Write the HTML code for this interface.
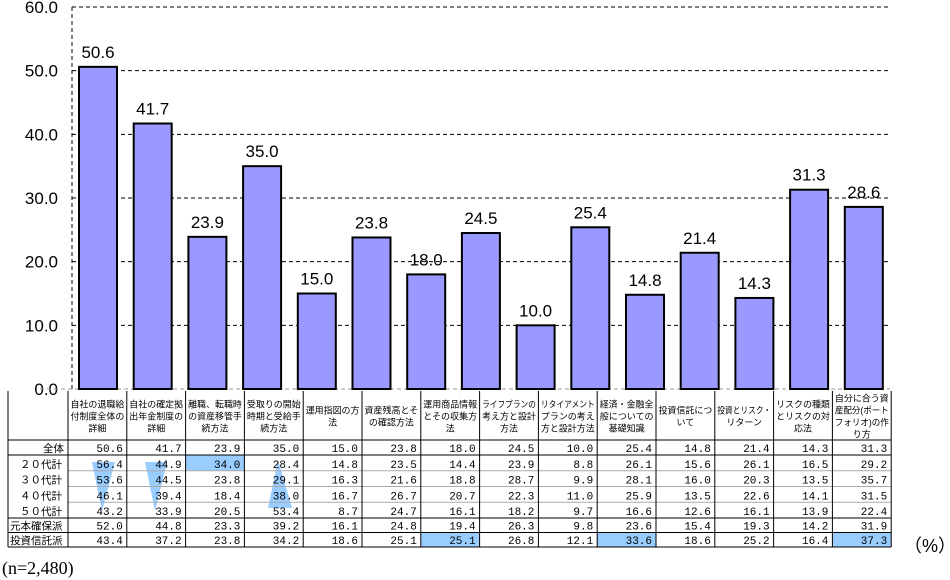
<!DOCTYPE html>
<html><head><meta charset="utf-8"><style>
body{margin:0;background:#fff;width:950px;height:580px;overflow:hidden;position:relative;font-family:"Liberation Sans","Noto Sans CJK JP",sans-serif}
svg{position:absolute;left:0;top:0}
</style></head><body>
<svg width="950" height="580" id="svg"></svg>
<script>
const categories=["自社の退職給付制度全体の詳細","自社の確定拠出年金制度の詳細","離職、転職時の資産移管手続方法","受取りの開始時期と受給手続方法","運用指図の方法","資産残高とその確認方法","運用商品情報とその収集方法","ライフプランの考え方と設計方法","リタイアメントプランの考え方と設計方法","経済・金融全般についての基礎知識","投資信託について","投資とリスク・リターン","リスクの種類とリスクの対応法","自分に合う資産配分(ポートフォリオ)の作り方"];
const headerLines=[["自社の退職給","付制度全体の","詳細"],["自社の確定拠","出年金制度の","詳細"],["離職、転職時","の資産移管手","続方法"],["受取りの開始","時期と受給手","続方法"],["運用指図の方","法"],["資産残高とそ","の確認方法"],["運用商品情報","とその収集方","法"],["ライフプランの","考え方と設計","方法"],["リタイアメント","プランの考え","方と設計方法"],["経済・金融全","般についての","基礎知識"],["投資信託につ","いて"],["投資とリスク・","リターン"],["リスクの種類","とリスクの対","応法"],["自分に合う資","産配分(ポート","フォリオ)の作","り方"]];
const barValues=[50.6,41.7,23.9,35.0,15.0,23.8,18.0,24.5,10.0,25.4,14.8,21.4,14.3,31.3,28.6];
const yTicks=[0,10,20,30,40,50,60];
const rowLabels=["全体","２０代計","３０代計","４０代計","５０代計","元本確保派","投資信託派"];
const rowAll=[50.6,41.7,23.9,35.0,15.0,23.8,18.0,24.5,10.0,25.4,14.8,21.4,14.3,31.3];
const row20=[56.4,44.9,34.0,28.4,14.8,23.5,14.4,23.9,8.8,26.1,15.6,26.1,16.5,29.2];
const row30=[53.6,44.5,23.8,29.1,16.3,21.6,18.8,28.7,9.9,28.1,16.0,20.3,13.5,35.7];
const row40=[46.1,39.4,18.4,38.0,16.7,26.7,20.7,22.3,11.0,25.9,13.5,22.6,14.1,31.5];
const row50=[43.2,33.9,20.5,53.4,8.7,24.7,16.1,18.2,9.7,16.6,12.6,16.1,13.9,22.4];
const rowGen=[52.0,44.8,23.3,39.2,16.1,24.8,19.4,26.3,9.8,23.6,15.4,19.3,14.2,31.9];
const rowTou=[43.4,37.2,23.8,34.2,18.6,25.1,25.1,26.8,12.1,33.6,18.6,25.2,16.4,37.3];
const rows=[rowAll,row20,row30,row40,row50,rowGen,rowTou];

const S=document.getElementById('svg');const NS="http://www.w3.org/2000/svg";
function mk(t,a,p){const e=document.createElementNS(NS,t);for(const k in a)e.setAttribute(k,a[k]);(p||S).appendChild(e);return e;}
const y0=389,yTop=7,xL=72,xR=890;
const yS=v=>y0-(v/60)*(y0-yTop);
const bX=i=>79+54.7*i;const bW=38;
yTicks.forEach(t=>{
 if(t>0){const l=mk('line',{x1:xL,x2:xR,y1:yS(t),y2:yS(t),stroke:'#000','stroke-dasharray':'4,3','stroke-width':1});
 }
 const tx=mk('text',{x:58,y:yS(t)+6,'text-anchor':'end','font-size':17,fill:'#000'});tx.textContent=t.toFixed(1);
 
});
const ax=mk('line',{x1:xL,x2:xL,y1:yTop,y2:y0,stroke:'#000','stroke-dasharray':'4,3'});

const zl=mk('line',{x1:40,x2:xR,y1:y0,y2:y0,stroke:'#999','stroke-dasharray':'4,3'});

barValues.forEach((v,i)=>{
 const r=mk('rect',{x:bX(i),y:yS(v),width:bW,height:y0-yS(v),fill:'#9999ff',stroke:'#000','stroke-width':2});
 
 const t=mk('text',{x:bX(i)+bW/2,y:yS(v)-9,'text-anchor':'middle','font-size':17,fill:'#000'});t.textContent=v.toFixed(1);
 
});
const tL=8,c0=68,cw=58.8,nC=14,tR=c0+cw*nC;
const rY=[391,440,455,470.75,486.5,502.25,518,532.5,547];
const cx=k=>c0+cw*k;
const hl=[[1,2],[6,6],[6,9],[6,13]];
hl.forEach(([r,c])=>{const e=mk('rect',{x:cx(c),y:rY[r+1],width:cw,height:rY[r+2]-rY[r+1],fill:'#99ccff'});
 });
const tris=["92,462 115,462 102,511","145,462 167,462 155,511","278,460 268,508 292,508"];
tris.forEach(p=>{const e=mk('polygon',{points:p,fill:'#99ccff'});
 });
[3,4,5].forEach(r=>{const l=mk('line',{x1:c0,x2:tR,y1:rY[r],y2:rY[r],stroke:'#aaa'});
 });
[1,2,6,7].forEach(r=>{const l=mk('line',{x1:tL,x2:tR,y1:rY[r],y2:rY[r],stroke:'#000'});
 });
const b=mk('line',{x1:tL,x2:tR,y1:rY[8],y2:rY[8],stroke:'#000'});
const lb=mk('line',{x1:tL,x2:tL,y1:rY[0],y2:rY[8],stroke:'#000'});
for(let k=0;k<=nC;k++){const l=mk('line',{x1:cx(k),x2:cx(k),y1:rY[0],y2:rY[8],stroke:'#000'});
 }
headerLines.forEach((ls,k)=>{const n=ls.length;const h=n*12;const st=(rY[0]+rY[1])/2-h/2+10;
 ls.forEach((s,j)=>{const a={x:cx(k)+cw/2,y:st+j*12,'text-anchor':'middle','font-size':9,fill:'#000'};
  if(s.length*9>cw-5){a.textLength=cw-5;a.lengthAdjust='spacingAndGlyphs';}
  const t=mk('text',a);t.textContent=s;
 });});
rows.forEach((arr,r)=>{const yb=rY[r+2]-3;
 const lt=mk('text',{x:r==0?64:(r>=5?10:20),y:yb,'text-anchor':r==0?'end':'start','font-size':10.5,fill:'#000'});lt.textContent=rowLabels[r];
 
 arr.forEach((v,k)=>{const t=mk('text',{x:cx(k+1)-4,y:yb,'text-anchor':'end','font-size':11,'font-family':'Liberation Mono, monospace',fill:'#000'});t.textContent=v.toFixed(1);
 });});
const pc=mk('text',{x:930,y:552,'text-anchor':'middle','font-size':18,fill:'#000'});pc.textContent="（%）";

const nn=mk('text',{x:2,y:574,'font-size':18,'font-family':'Liberation Serif, serif',fill:'#000'});nn.textContent="(n=2,480)";

</script>
</body></html>
